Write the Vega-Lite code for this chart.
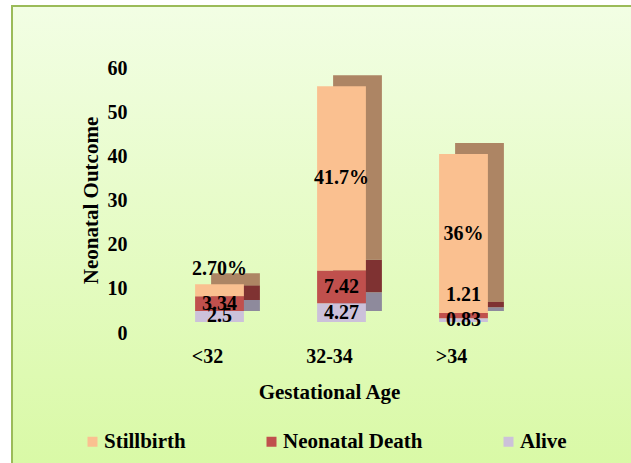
{
  "$schema": "https://vega.github.io/schema/vega-lite/v6.json",
  "width": 620,
  "height": 460,
  "autosize": "none",
  "padding": {"left": 12, "top": 6, "right": 0, "bottom": 0},
  "background": "white",
  "config": {
    "font": "Liberation Serif",
    "axis": {"labelFont": "Liberation Serif", "titleFont": "Liberation Serif"},
    "legend": {"labelFont": "Liberation Serif"},
    "text": {"font": "Liberation Serif"},
    "view": {
      "fill": {"gradient": "linear", "x1": 0, "y1": 0, "x2": 0, "y2": 1, "stops": [{"offset": 0, "color": "#f2fee4"}, {"offset": 1, "color": "#d9f9a6"}]},
      "stroke": "#9bbb59",
      "strokeWidth": 2
    }
  },
  "data": {
    "values": [
      {"age": "<32", "outcome": "Alive", "value": 2.5, "label": "2.5"},
      {"age": "<32", "outcome": "Neonatal Death", "value": 3.34, "label": "3.34"},
      {"age": "<32", "outcome": "Stillbirth", "value": 2.7, "label": "2.70%"},
      {"age": "32-34", "outcome": "Alive", "value": 4.27, "label": "4.27"},
      {"age": "32-34", "outcome": "Neonatal Death", "value": 7.42, "label": "7.42"},
      {"age": "32-34", "outcome": "Stillbirth", "value": 41.7, "label": "41.7%"},
      {"age": ">34", "outcome": "Alive", "value": 0.83, "label": "0.83"},
      {"age": ">34", "outcome": "Neonatal Death", "value": 1.21, "label": "1.21"},
      {"age": ">34", "outcome": "Stillbirth", "value": 36, "label": "36%"}
    ]
  },
  "encoding": {
    "x": {
      "field": "age", "type": "nominal", "sort": ["<32", "32-34", ">34"],
      "scale": {"range": [183.1, 475.9], "paddingInner": 0.6, "paddingOuter": 0},
      "axis": {
        "orient": "bottom", "offset": -120, "labelOffset": -12, "ticks": false, "domain": false, "grid": false,
        "labelPadding": 0, "labelAngle": 0, "labelFontSize": 20, "labelFontWeight": "bold", "labelColor": "black",
        "title": "Gestational Age", "titleFontSize": 21, "titleFontWeight": "bold", "titleColor": "black",
        "titlePadding": 15, "titleX": 317
      }
    }
  },
  "layer": [
    {
      "mark": {"type": "bar", "xOffset": 16, "yOffset": -11},
      "encoding": {
        "y": {"field": "value", "type": "quantitative", "stack": "zero",
          "scale": {"domain": [-32.6, 71.55], "nice": false, "zero": false},
          "axis": {"orient": "left", "offset": -115, "values": [0, 10, 20, 30, 40, 50, 60], "ticks": false, "domain": false, "grid": false,
            "labelPadding": 0, "labelOffset": 11, "labelFontSize": 20, "labelFontWeight": "bold", "labelColor": "black",
            "title": "Neonatal Outcome", "titleFontSize": 21, "titleFontWeight": "bold", "titleColor": "black", "titlePadding": 6, "titleY": 194}},
        "color": {"field": "outcome", "type": "nominal", "legend": null,
          "scale": {"domain": ["Stillbirth", "Neonatal Death", "Alive"], "range": ["#ad8564", "#7f3232", "#8e8a9c"]}},
        "order": {"field": "outcome", "sort": "ascending"}
      }
    },
    {
      "mark": {"type": "bar"},
      "encoding": {
        "y": {"field": "value", "type": "quantitative", "stack": "zero",
          "scale": {"domain": [-32.6, 71.55], "nice": false, "zero": false},
          "axis": {"orient": "left", "offset": -115, "values": [0, 10, 20, 30, 40, 50, 60], "ticks": false, "domain": false, "grid": false,
            "labelPadding": 0, "labelOffset": 11, "labelFontSize": 20, "labelFontWeight": "bold", "labelColor": "black",
            "title": "Neonatal Outcome", "titleFontSize": 21, "titleFontWeight": "bold", "titleColor": "black", "titlePadding": 6, "titleY": 194}},
        "color": {"field": "outcome", "type": "nominal",
          "scale": {"domain": ["Stillbirth", "Neonatal Death", "Alive"], "range": ["#fac090", "#c0504d", "#ccc1da"]},
          "legend": {"orient": "none", "legendX": 70, "legendY": 425, "direction": "horizontal", "title": null,
            "symbolType": "square", "symbolSize": 100, "symbolStrokeWidth": 0, "labelFontSize": 21, "labelFontWeight": "bold",
            "labelColor": "black", "labelOffset": 1, "columnPadding": 75}},
        "order": {"field": "outcome", "sort": "ascending"}
      }
    },
    {
      "transform": [
        {"stack": "value", "groupby": ["age"], "sort": [{"field": "outcome", "order": "ascending"}], "as": ["y0", "y1"]},
        {"calculate": "(datum.y0 + datum.y1) / 2", "as": "mid"},
        {"filter": "!((datum.age == '<32' && datum.outcome == 'Stillbirth') || (datum.age == '>34' && datum.outcome == 'Neonatal Death'))"}
      ],
      "mark": {"type": "text", "fontSize": 20, "fontWeight": "bold", "color": "black", "baseline": "middle", "align": "center"},
      "encoding": {
        "y": {"field": "mid", "type": "quantitative", "scale": {"domain": [-32.6, 71.55], "nice": false, "zero": false},
          "axis": {"orient": "left", "offset": -115, "values": [0, 10, 20, 30, 40, 50, 60], "ticks": false, "domain": false, "grid": false,
            "labelPadding": 0, "labelOffset": 11, "labelFontSize": 20, "labelFontWeight": "bold", "labelColor": "black",
            "title": "Neonatal Outcome", "titleFontSize": 21, "titleFontWeight": "bold", "titleColor": "black", "titlePadding": 6, "titleY": 194}},
        "text": {"field": "label"}
      }
    },
    {
      "transform": [
        {"stack": "value", "groupby": ["age"], "sort": [{"field": "outcome", "order": "ascending"}], "as": ["y0", "y1"]},
        {"calculate": "(datum.y0 + datum.y1) / 2", "as": "mid"},
        {"filter": "(datum.age == '<32' && datum.outcome == 'Stillbirth') || (datum.age == '>34' && datum.outcome == 'Neonatal Death')"}
      ],
      "mark": {"type": "text", "fontSize": 20, "fontWeight": "bold", "color": "black", "baseline": "middle", "align": "center", "dy": -21},
      "encoding": {
        "y": {"field": "mid", "type": "quantitative", "scale": {"domain": [-32.6, 71.55], "nice": false, "zero": false},
          "axis": {"orient": "left", "offset": -115, "values": [0, 10, 20, 30, 40, 50, 60], "ticks": false, "domain": false, "grid": false,
            "labelPadding": 0, "labelOffset": 11, "labelFontSize": 20, "labelFontWeight": "bold", "labelColor": "black",
            "title": "Neonatal Outcome", "titleFontSize": 21, "titleFontWeight": "bold", "titleColor": "black", "titlePadding": 6, "titleY": 194}},
        "text": {"field": "label"}
      }
    }
  ],
  "resolve": {"scale": {"color": "independent"}}
}
